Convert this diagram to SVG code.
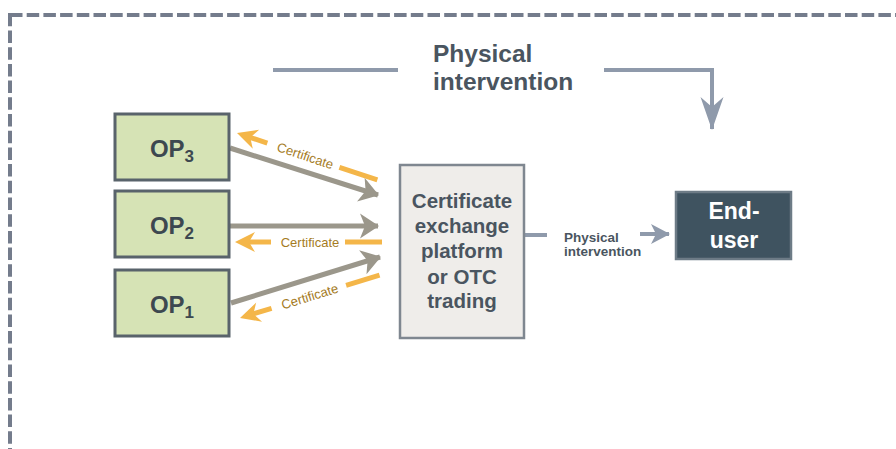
<svg xmlns="http://www.w3.org/2000/svg" width="896" height="449" viewBox="0 0 896 449">
<style>
.op{fill:#d6e3b5;stroke:#59636b;stroke-width:3}
.opt{font-family:"Liberation Sans",Arial,sans-serif;font-weight:bold;font-size:24px;fill:#3d4850;text-anchor:middle}
.cert{font-family:"Liberation Sans",Arial,sans-serif;font-size:13px;fill:#a57c1f;text-anchor:middle}
.gray{stroke:#9b978b;stroke-width:5;fill:none}
.orange{stroke:#f4b649;stroke-width:5;fill:none}
.blue{stroke:#8f9aab;stroke-width:4;fill:none}
.lbl{font-family:"Liberation Sans",Arial,sans-serif;font-weight:bold;fill:#4a5560;text-anchor:middle}
.lft{font-family:"Liberation Sans",Arial,sans-serif;font-weight:bold;fill:#4a5560}
</style>
<defs>
<marker id="ag" markerUnits="userSpaceOnUse" markerWidth="24" markerHeight="28" refX="18" refY="13" orient="auto">
<path d="M0,0.5 L19,13 L0,25.5 L5,13 Z" fill="#9b978b"/>
</marker>
<marker id="ab" markerUnits="userSpaceOnUse" markerWidth="24" markerHeight="24" refX="18" refY="11" orient="auto">
<path d="M0,1 L19,11 L0,21 L5,11 Z" fill="#8f9aab"/>
</marker>
<marker id="abv" markerUnits="userSpaceOnUse" markerWidth="36" markerHeight="26" refX="32" refY="12" orient="auto">
<path d="M0,0.5 L33,12 L0,23.5 L10,12 Z" fill="#8f9aab"/>
</marker>
<path id="oh" d="M0,0 L20,-10 L14,0 L20,10 Z" fill="#f4b649"/>
</defs>
<rect x="10" y="15" width="900" height="450" fill="none" stroke="#747c8c" stroke-width="4" stroke-dasharray="12.5,4.2"/>

<g id="connectors">
<line class="gray" x1="230" y1="148" x2="378" y2="195" marker-end="url(#ag)"/>
<line class="gray" x1="230" y1="226" x2="378" y2="226" marker-end="url(#ag)"/>
<line class="gray" x1="231" y1="303" x2="380" y2="257" marker-end="url(#ag)"/>

<g transform="translate(237,133) rotate(18.5)">
<use href="#oh"/>
<line class="orange" x1="12" y1="0" x2="32" y2="0"/>
<text class="cert" x="72" y="4.5">Certificate</text>
<line class="orange" x1="108" y1="0" x2="148" y2="0"/>
</g>
<g transform="translate(235,242)">
<use href="#oh"/>
<line class="orange" x1="12" y1="0" x2="36" y2="0"/>
<text class="cert" x="75" y="4.5">Certificate</text>
<line class="orange" x1="110" y1="0" x2="147" y2="0"/>
</g>
<g transform="translate(240,318) rotate(-17.1)">
<use href="#oh"/>
<line class="orange" x1="12" y1="0" x2="33" y2="0"/>
<text class="cert" x="73" y="4.5">Certificate</text>
<line class="orange" x1="111" y1="0" x2="146" y2="0"/>
</g>

<line class="blue" x1="273" y1="70" x2="398" y2="70"/>
<polyline class="blue" points="604,70 712,70 712,129" marker-end="url(#abv)"/>
<text class="lft" font-size="24.5" x="433" y="62">Physical</text>
<text class="lft" font-size="24.5" x="433" y="90">intervention</text>

<line class="blue" x1="524" y1="235" x2="547" y2="235"/>
<line class="blue" x1="640" y1="234" x2="669" y2="234" marker-end="url(#ab)"/>
<text class="lft" font-size="13.5" x="564" y="242">Physical</text>
<text class="lft" font-size="13.5" x="564" y="256">intervention</text>
</g>

<g id="op3">
<rect class="op" x="115" y="114" width="114" height="66"/>
<text class="opt" x="172" y="157">OP<tspan font-size="17" dy="5">3</tspan></text>
</g>
<g id="op2">
<rect class="op" x="115" y="191" width="114" height="66"/>
<text class="opt" x="172" y="234">OP<tspan font-size="17" dy="5">2</tspan></text>
</g>
<g id="op1">
<rect class="op" x="115" y="270" width="114" height="66"/>
<text class="opt" x="172" y="313">OP<tspan font-size="17" dy="5">1</tspan></text>
</g>

<g id="platform">
<rect x="400" y="165" width="124" height="173" fill="#efedea" stroke="#7f8790" stroke-width="2.5"/>
<text class="lbl" font-size="20.5" x="462" y="208">Certificate</text>
<text class="lbl" font-size="20.5" x="462" y="233">exchange</text>
<text class="lbl" font-size="20.5" x="462" y="258">platform</text>
<text class="lbl" font-size="20.5" x="462" y="284">or OTC</text>
<text class="lbl" font-size="20.5" x="462" y="308">trading</text>
</g>

<g id="enduser">
<rect x="676" y="192" width="115" height="67" fill="#3f5360" stroke="#6d7b86" stroke-width="2.5"/>
<text class="lbl" font-size="23" x="734" y="219" style="fill:#ffffff">End-</text>
<text class="lbl" font-size="23" x="734" y="248" style="fill:#ffffff">user</text>
</g>
</svg>
